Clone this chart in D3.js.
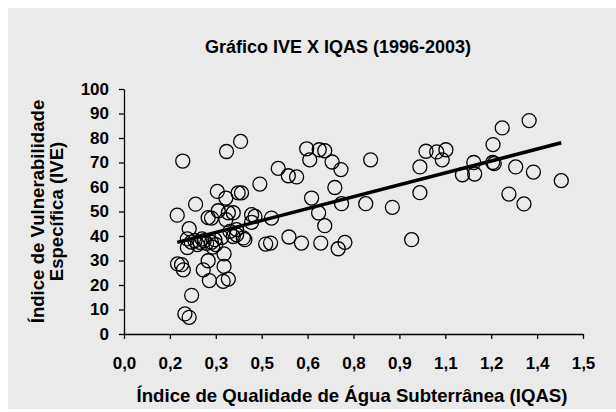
<!DOCTYPE html>
<html>
<head>
<meta charset="utf-8">
<script src="https://cdn.jsdelivr.net/npm/d3@7"></script>
<style>
    body { margin: 0; background: #fff; }
    svg { display: block; font-family: "Liberation Sans", Arial, sans-serif; }
    .axis path, .axis line { stroke: #000; stroke-width: 1.3; }
    .axis text { font-size: 17px; font-weight: bold; fill: #000; }
</style>
</head>
<body>
<div id="chart"></div>
<script>
// IQAS (x) and IVE (y)
var iqas = [
    0.192, 0.335, 0.381, 0.504, 0.305, 0.333, 0.373, 0.384, 0.444, 0.234,
    0.174, 0.308, 0.213, 0.275, 0.286, 0.341, 0.357, 0.333, 0.417, 0.417,
    0.482, 0.207, 0.232, 0.248, 0.286, 0.297, 0.319, 0.357, 0.368, 0.390,
    0.395, 0.463, 0.479, 0.207, 0.262, 0.175, 0.188, 0.194, 0.275, 0.259,
    0.327, 0.327, 0.279, 0.324, 0.341, 0.221, 0.199, 0.213, 0.597, 0.638,
    0.656, 0.607, 0.680, 0.709, 0.537, 0.564, 0.689, 0.613, 0.711, 0.790,
    0.877, 0.636, 0.806, 0.987, 1.022, 1.052, 1.040, 0.967, 0.967, 0.656,
    0.539, 0.580, 0.643, 0.700, 0.722, 0.940, 1.106, 1.143, 1.146, 1.206,
    1.236, 1.324, 1.205, 1.210, 1.280, 1.338, 1.429, 1.258, 1.307, 0.220,
    0.240, 0.270, 0.300, 0.255, 0.290, 0.346, 0.368, 0.428
];
var ive = [
    70.6, 74.5, 78.6, 67.6, 58.2, 55.5, 57.6, 57.6, 61.2, 53.0,
    48.5, 50.3, 43.0, 47.5, 47.3, 49.5, 49.5, 46.7, 48.7, 45.6,
    47.3, 38.8, 38.1, 37.4, 37.4, 38.5, 39.4, 39.8, 40.5, 39.2,
    38.5, 36.7, 37.1, 35.3, 38.1, 28.6, 28.3, 26.2, 29.9, 26.2,
    32.7, 27.6, 21.8, 21.5, 22.4, 15.8, 8.2, 6.8, 75.6, 75.2,
    74.8, 71.1, 70.2, 67.1, 64.6, 64.1, 59.8, 55.5, 53.2, 53.2,
    51.7, 49.4, 71.1, 74.6, 74.3, 75.2, 71.1, 68.2, 57.7, 44.2,
    39.6, 37.1, 37.1, 34.8, 37.4, 38.5, 65.0, 70.0, 65.3, 77.3,
    84.1, 87.1, 70.0, 69.6, 68.2, 66.1, 62.6, 57.1, 53.1, 37.5,
    36.5, 37.0, 36.5, 38.8, 35.5, 41.9, 42.6, 48.0
];

var xTicks = [0, 0.15, 0.3, 0.45, 0.6, 0.75, 0.9, 1.05, 1.2, 1.35, 1.5];
var xTickLabels = ["0,0", "0,2", "0,3", "0,5", "0,6", "0,8", "0,9", "1,1", "1,2", "1,4", "1,5"];
var yTicks = [0, 10, 20, 30, 40, 50, 60, 70, 80, 90, 100];

var chartTitle = "Gráfico IVE X IQAS (1996-2003)";
var xTitle = "Índice de Qualidade de Água Subterrânea (IQAS)";
var yTitle = ["Índice de Vulnerabilidade", "Específica (IVE)"];

var width = 616, height = 412;
var margin = {top: 89, right: 33, bottom: 78, left: 124};
var plotW = width - margin.left - margin.right;
var plotH = height - margin.top - margin.bottom;

var svg = d3.select('#chart').append('svg')
    .attr('width', width)
    .attr('height', height);

// grey chart area
svg.append('rect')
    .attr('x', 8).attr('y', 8)
    .attr('width', width - 8).attr('height', 401)
    .attr('fill', '#eaeaea');

var x = d3.scaleLinear().domain([0, 1.5]).range([0, plotW]);
var y = d3.scaleLinear().domain([0, 100]).range([plotH, 0]);

var g = svg.append('g')
    .attr('transform', 'translate(' + margin.left + ',' + margin.top + ')');

var xAxis = d3.axisBottom(x)
    .tickValues(xTicks)
    .tickSize(5)
    .tickPadding(18)
    .tickSizeOuter(0)
    .tickFormat(function(d, i) { return xTickLabels[i]; });

var yAxis = d3.axisLeft(y)
    .tickValues(yTicks)
    .tickSize(5)
    .tickPadding(10)
    .tickSizeOuter(0);

g.append('g')
    .attr('class', 'axis')
    .attr('transform', 'translate(0,' + plotH + ')')
    .call(xAxis);

g.append('g')
    .attr('class', 'axis')
    .call(yAxis);

var points = iqas.map(function(v, i) { return {x: v, y: ive[i]}; });

g.append('g').selectAll('circle')
    .data(points)
    .enter()
    .append('circle')
    .attr('cx', function(d) { return x(d.x); })
    .attr('cy', function(d) { return y(d.y); })
    .attr('r', 7)
    .attr('fill', 'none')
    .attr('stroke', '#000')
    .attr('stroke-width', 1.3);

// least squares trend line over the data range
var mx = d3.mean(iqas), my = d3.mean(ive);
var sxy = d3.sum(points, function(d) { return (d.x - mx) * (d.y - my); });
var sxx = d3.sum(points, function(d) { return (d.x - mx) * (d.x - mx); });
var slope = sxy / sxx;
var icpt = my - slope * mx;
var ext = d3.extent(iqas);

g.append('line')
    .attr('x1', x(ext[0])).attr('y1', y(icpt + slope * ext[0]))
    .attr('x2', x(ext[1])).attr('y2', y(icpt + slope * ext[1]))
    .attr('stroke', '#000')
    .attr('stroke-width', 3.5);

svg.append('text')
    .attr('x', 338).attr('y', 53)
    .attr('text-anchor', 'middle')
    .style('font-size', '18px')
    .style('font-weight', 'bold')
    .text(chartTitle);

svg.append('text')
    .attr('x', 352).attr('y', 402)
    .attr('text-anchor', 'middle')
    .style('font-size', '18.6px')
    .style('font-weight', 'bold')
    .text(xTitle);

var yt = svg.append('text')
    .attr('transform', 'translate(0,' + (margin.top + plotH / 2) + ') rotate(-90)')
    .attr('text-anchor', 'middle')
    .style('font-size', '18.6px')
    .style('font-weight', 'bold');

yTitle.forEach(function(line, i) {
    yt.append('tspan')
        .attr('x', 0)
        .attr('y', 43.5 + i * 19.5)
        .text(line);
});
</script>
</body>
</html>
